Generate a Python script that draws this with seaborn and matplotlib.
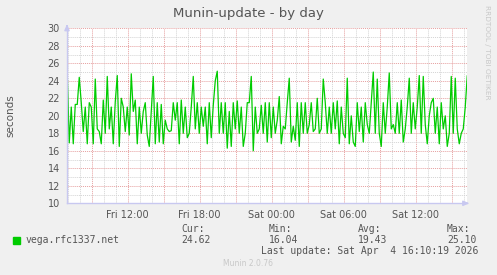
import numpy as np
import pandas as pd
import matplotlib
matplotlib.use("Agg")
import matplotlib.pyplot as plt
import seaborn as sns
from matplotlib.ticker import MultipleLocator, FixedLocator

# ---- data (values every 10 minutes) ----
start_hour = 6.98          # hours since Fri 00:00
step_hours = 1.0 / 6.0     # 10 minutes
values = [
    24.8, 16.9, 21.0, 16.8, 21.3, 21.3, 24.4, 21.5, 18.2, 21.0,
    16.8, 21.5, 21.0, 16.8, 24.2, 18.5, 18.2, 16.8, 21.8, 18.0,
    24.5, 18.5, 21.0, 16.8, 21.6, 24.6, 16.5, 22.0, 21.0, 18.2,
    21.0, 17.8, 24.8, 20.5, 21.8, 16.8, 21.0, 18.0, 20.5, 21.5,
    17.8, 16.5, 20.5, 24.5, 16.8, 21.5, 17.0, 21.3, 16.8, 19.5,
    18.5, 18.2, 18.3, 21.5, 19.5, 21.5, 16.8, 21.8, 18.0, 21.0,
    17.5, 18.0, 21.0, 24.5, 18.5, 21.5, 18.0, 21.0, 18.8, 21.0,
    16.8, 21.5, 17.5, 21.2, 24.0, 25.1, 18.0, 21.5, 18.0, 21.5,
    16.3, 20.5, 16.5, 21.5, 18.5, 21.7, 18.0, 21.0, 16.5, 18.0,
    21.5, 21.5, 24.5, 16.0, 21.0, 18.0, 18.5, 21.2, 18.0, 21.5,
    17.0,
    21.5, 17.5, 21.0, 18.0, 19.5, 22.2, 16.8, 18.8, 18.5, 21.5,
    24.3, 17.0, 18.8, 17.2, 21.5, 16.5, 21.5, 18.0, 21.5, 18.0,
    19.0, 21.5, 18.2, 18.5, 22.0, 18.0, 18.5, 24.2, 21.5, 18.0,
    21.0, 18.0, 21.5, 18.5, 21.7, 16.8, 21.0, 18.0, 17.5, 24.3,
    16.8, 20.0, 17.0, 16.5, 21.5, 18.2, 21.0, 17.0, 21.5, 19.0,
    18.0, 21.5, 25.0, 18.0, 24.2, 18.0, 16.5, 21.5, 18.0, 21.0,
    24.9, 18.5, 19.0, 18.0, 21.5, 18.0, 21.8, 17.0, 18.5, 21.0,
    24.3, 18.0, 21.5, 18.5, 21.0, 24.6, 18.0, 24.5, 19.0, 16.8,
    20.0, 21.5, 22.0, 18.0, 21.0, 16.8, 21.5, 18.5, 20.0, 16.5,
    18.0, 24.5, 18.0, 24.3, 18.5, 16.8, 18.0, 18.5, 21.0, 24.6,
]
tick_hours = [9, 12, 15, 18, 21, 24, 27, 30, 33, 36, 39]
tick_labels = ["", "Fri 12:00", "", "Fri 18:00", "", "Sat 00:00", "",
               "Sat 06:00", "", "Sat 12:00", ""]
y_ticks = [10, 12, 14, 16, 18, 20, 22, 24, 26, 28, 30]
series_name = "vega.rfc1337.net"
stats_labels = ["Cur:", "Min:", "Avg:", "Max:"]
stats_values = ["24.62", "16.04", "19.43", "25.10"]
last_update = "Last update: Sat Apr  4 16:10:19 2026"

df = pd.DataFrame({
    "hour": start_hour + step_hours * np.arange(len(values)),
    "seconds": values,
})

# ---- figure ----
W, H = 497, 275
sns.set_style("white")
plt.rcParams["font.family"] = ["DejaVu Sans"]
fig = plt.figure(figsize=(W / 100, H / 100), dpi=100, facecolor="#F0F0F0")

left, right, top, bottom = 67, 467, 28.3, 203.3
ax = fig.add_axes([left / W, 1 - bottom / H, (right - left) / W, (bottom - top) / H])
ax.set_facecolor("white")

x_left = 12 + (left - 127.5) / 12.0
x_right = 12 + (right - 127.5) / 12.0
ax.set_xlim(x_left, x_right)
ax.set_ylim(10, 30)

# grid
ax.xaxis.set_major_locator(FixedLocator(tick_hours))
ax.xaxis.set_minor_locator(MultipleLocator(1))
ax.yaxis.set_major_locator(FixedLocator(y_ticks))
ax.yaxis.set_minor_locator(MultipleLocator(1))
ax.grid(which="minor", color="#D4D4D4", lw=0.7, ls=(0, (1, 1)))
ax.grid(which="major", color="#E6A0A0", lw=0.7, ls=(0, (1, 1)))
ax.set_axisbelow(True)

sns.lineplot(data=df, x="hour", y="seconds", ax=ax, color="#00CC00",
             lw=0.9, legend=False)

ax.set_xticks(tick_hours)
ax.set_xticklabels(tick_labels)
ax.set_yticks(y_ticks)
ax.set_yticklabels([str(v) for v in y_ticks])
ax.tick_params(axis="both", which="major", labelsize=7, labelcolor="#555555",
               length=2, width=0.7, color="#E6A0A0", direction="out", pad=3)
ax.tick_params(axis="both", which="minor", length=2, width=0.7,
               color="#D4D4D4", direction="out")
ax.tick_params(axis="x", which="major", pad=3)
ax.set_xlabel("")
ax.set_ylabel("")

for s in ["top", "right"]:
    ax.spines[s].set_visible(False)
for s in ["left", "bottom"]:
    ax.spines[s].set_color("#C8C8F0")
    ax.spines[s].set_linewidth(1.0)

# axis arrows
ax.annotate("", xy=(0, 1.04), xytext=(0, 0.99), xycoords="axes fraction",
            arrowprops=dict(arrowstyle="-|>,head_width=0.15,head_length=0.35",
                            color="#C8C8F0", lw=1.0))
ax.annotate("", xy=(1.013, 0), xytext=(0.99, 0), xycoords="axes fraction",
            arrowprops=dict(arrowstyle="-|>,head_width=0.15,head_length=0.35",
                            color="#C8C8F0", lw=1.0))

# texts
fig.text(248 / W, 1 - 14 / H, "Munin-update - by day", ha="center", va="center",
         fontsize=9.5, color="#555555")
fig.text(10 / W, 1 - 116 / H, "seconds", rotation=90, ha="center", va="center",
         fontsize=7.5, color="#555555")
fig.text(487 / W, 1 - 52 / H, "RRDTOOL / TOBI OETIKER", rotation=270,
         ha="center", va="center", fontsize=5.3, color="#C8C8C8")

mono = "DejaVu Sans Mono"
fig.patches.append(plt.Rectangle((13 / W, 1 - 243.5 / H), 7 / W, 7 / H,
                                 transform=fig.transFigure, color="#00CC00"))
fig.text(26 / W, 1 - 240 / H, series_name, family=mono, fontsize=7,
         color="#555555", ha="left", va="center")
stat_x = [181, 269, 358, 447]
for sx, lab, val in zip(stat_x, stats_labels, stats_values):
    fig.text(sx / W, 1 - 228.5 / H, lab, family=mono, fontsize=7,
             color="#555555", ha="left", va="center")
    fig.text(sx / W, 1 - 240 / H, val, family=mono, fontsize=7,
             color="#555555", ha="left", va="center")
fig.text(261 / W, 1 - 251.5 / H, last_update, family=mono, fontsize=7,
         color="#555555", ha="left", va="center")
fig.text(248 / W, 1 - 264 / H, "Munin 2.0.76", fontsize=5.5,
         color="#C8C8C8", ha="center", va="center")

fig.savefig("out.png", dpi=100, facecolor=fig.get_facecolor())
